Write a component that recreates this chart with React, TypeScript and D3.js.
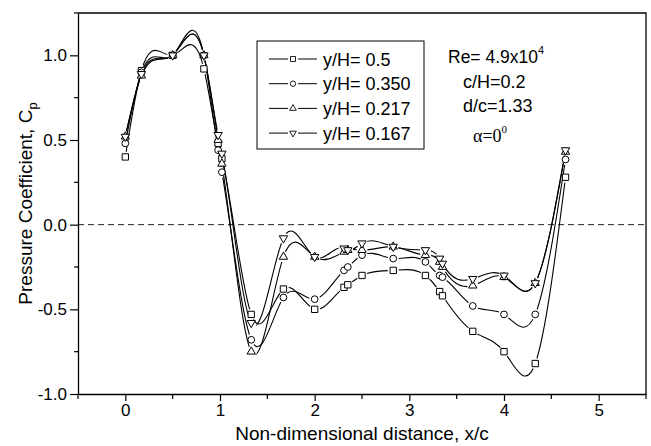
import { useEffect, useRef } from 'react';
import * as d3 from 'd3';

// x/c positions of the pressure taps
const xPos = [0, 0.17, 0.5, 0.83, 0.98, 1.02, 1.33, 1.67, 2.0, 2.31, 2.35, 2.5, 2.83, 3.17, 3.32, 3.35, 3.67, 4.0, 4.33, 4.65];

// Cp for each y/H
const cp500 = [0.40, 0.91, 1.0, 0.92, 0.48, 0.39, -0.53, -0.38, -0.50, -0.37, -0.355, -0.30, -0.27, -0.30, -0.395, -0.42, -0.63, -0.75, -0.82, 0.28];
const cp350 = [0.48, 0.90, 1.0, 1.0, 0.44, 0.31, -0.68, -0.43, -0.44, -0.27, -0.25, -0.18, -0.20, -0.22, -0.30, -0.31, -0.48, -0.53, -0.53, 0.385];
const cp217 = [0.52, 0.88, 1.0, 1.0, 0.50, 0.36, -0.75, -0.19, -0.19, -0.16, -0.15, -0.15, -0.13, -0.18, -0.22, -0.25, -0.36, -0.31, -0.345, 0.43];
const cp167 = [0.52, 0.89, 1.0, 1.0, 0.53, 0.42, -0.58, -0.08, -0.19, -0.14, -0.15, -0.11, -0.13, -0.15, -0.20, -0.23, -0.32, -0.30, -0.345, 0.44];

const seriesLabels = ['y/H= 0.5', 'y/H= 0.350', 'y/H= 0.217', 'y/H= 0.167'];
const seriesMarkers = ['square', 'circle', 'triUp', 'triDown'];

const yTicks = [-1, -0.5, 0, 0.5, 1];
const yMinor = [-0.75, -0.25, 0.25, 0.75, 1.25];
const xTicks = [0, 1, 2, 3, 4, 5];
const xMinor = [-0.5, 0.5, 1.5, 2.5, 3.5, 4.5, 5.5];

const font = 'Liberation Sans, Arial, sans-serif';

// natural cubic spline y(x), like the plotting program's "spline" connect
const curveSplineX = (context: any) => {
  let xs: number[] = [], ys: number[] = [];
  return {
    areaStart() { },
    areaEnd() { },
    lineStart() { xs = []; ys = []; },
    point(px: number, py: number) { xs.push(+px); ys.push(+py); },
    lineEnd() {
      const n = xs.length;
      if (!n) return;
      context.moveTo(xs[0], ys[0]);
      if (n === 2) { context.lineTo(xs[1], ys[1]); return; }
      const h: number[] = [];
      for (let i = 0; i < n - 1; i++) h.push(xs[i + 1] - xs[i]);
      const M = new Array(n).fill(0);
      const a: number[] = [], b: number[] = [], c: number[] = [], r: number[] = [];
      for (let i = 1; i < n - 1; i++) {
        a.push(h[i - 1]);
        b.push(2 * (h[i - 1] + h[i]));
        c.push(h[i]);
        r.push(6 * ((ys[i + 1] - ys[i]) / h[i] - (ys[i] - ys[i - 1]) / h[i - 1]));
      }
      const m = b.length;
      for (let i = 1; i < m; i++) {
        const w = a[i] / b[i - 1];
        b[i] -= w * c[i - 1];
        r[i] -= w * r[i - 1];
      }
      const sol = new Array(m).fill(0);
      sol[m - 1] = r[m - 1] / b[m - 1];
      for (let i = m - 2; i >= 0; i--) sol[i] = (r[i] - c[i] * sol[i + 1]) / b[i];
      for (let i = 0; i < m; i++) M[i + 1] = sol[i];
      for (let i = 0; i < n - 1; i++) {
        const hi = h[i];
        const s = (ys[i + 1] - ys[i]) / hi;
        const d0 = s - hi * (2 * M[i] + M[i + 1]) / 6;
        const d1 = s + hi * (M[i] + 2 * M[i + 1]) / 6;
        context.bezierCurveTo(
          xs[i] + hi / 3, ys[i] + d0 * hi / 3,
          xs[i + 1] - hi / 3, ys[i + 1] - d1 * hi / 3,
          xs[i + 1], ys[i + 1]
        );
      }
    }
  };
};

function App() {
  const ref = useRef<SVGSVGElement>(null);

  useEffect(() => {
    drawChart()
    // eslint-disable-next-line
  }, [])

  function drawChart() {
    const svg = d3.select(ref.current);
    svg.selectAll('*').remove();

    const left = 78, right = 646, top = 13, bottom = 394;
    const x = d3.scaleLinear().domain([-0.5, 5.5]).range([left, right]);
    const y = d3.scaleLinear().domain([-1, 1.25]).range([bottom, top]);

    const series = [cp500, cp350, cp217, cp167].map((vals, i) => ({
      label: seriesLabels[i],
      marker: seriesMarkers[i],
      points: xPos.map((xv, j) => [xv, vals[j]] as [number, number])
    }));

    const symbolFor = (kind: string) => {
      if (kind === 'square') return d3.symbol().type(d3.symbolSquare).size(40)();
      if (kind === 'circle') return d3.symbol().type(d3.symbolCircle).size(36)();
      return d3.symbol().type(d3.symbolTriangle).size(30)();
    };

    // zero line
    svg.append('line')
      .attr('x1', left).attr('x2', right)
      .attr('y1', y(0)).attr('y2', y(0))
      .attr('stroke', '#222')
      .attr('stroke-dasharray', '6,4');

    // top + right frame
    svg.append('path')
      .attr('d', `M${left},${top}H${right}V${bottom}`)
      .attr('fill', 'none')
      .attr('stroke', '#000')
      .attr('stroke-width', 1.3);

    // y axis
    const gy = svg.append('g')
      .attr('transform', `translate(${left},0)`)
      .call(d3.axisLeft(y).tickValues(yTicks).tickSize(8).tickSizeOuter(0).tickPadding(3)
        .tickFormat(d => (+d).toFixed(1)));
    gy.select('.domain').attr('stroke-width', 1.3);
    gy.selectAll('.tick line').attr('stroke-width', 1.2);
    gy.selectAll('text').attr('font-size', 17).attr('font-family', font).attr('fill', '#000');
    gy.selectAll('.minor').data(yMinor).enter().append('line')
      .attr('x1', -4).attr('x2', 0)
      .attr('y1', d => y(d)).attr('y2', d => y(d))
      .attr('stroke', '#000').attr('stroke-width', 1.2);

    // x axis
    const gx = svg.append('g')
      .attr('transform', `translate(0,${bottom})`)
      .call(d3.axisBottom(x).tickValues(xTicks).tickSize(7).tickSizeOuter(0).tickPadding(3)
        .tickFormat(d => String(d)));
    gx.select('.domain').attr('stroke-width', 1.3);
    gx.selectAll('.tick line').attr('stroke-width', 1.2);
    gx.selectAll('text').attr('font-size', 17).attr('font-family', font).attr('fill', '#000');
    gx.selectAll('.minor').data(xMinor).enter().append('line')
      .attr('x1', d => x(d)).attr('x2', d => x(d))
      .attr('y1', 0).attr('y2', 5)
      .attr('stroke', '#000').attr('stroke-width', 1.2);

    // axis titles
    svg.append('text')
      .attr('x', (left + right) / 2).attr('y', 440)
      .attr('text-anchor', 'middle')
      .attr('font-family', font).attr('font-size', 19)
      .text('Non-dimensional distance, x/c');

    const yt = svg.append('text')
      .attr('transform', `translate(32,${(top + bottom) / 2}) rotate(-90)`)
      .attr('text-anchor', 'middle')
      .attr('font-family', font).attr('font-size', 19);
    yt.append('tspan').text('Pressure Coefficient, C');
    yt.append('tspan').attr('dy', 5).attr('font-size', 13).text('p');

    // masks so lines stop short of their own markers
    const defs = svg.append('defs');
    series.forEach((s, i) => {
      const m = defs.append('mask').attr('id', `gap-${i}`).attr('maskUnits', 'userSpaceOnUse')
        .attr('x', 0).attr('y', 0).attr('width', 651).attr('height', 446);
      m.append('rect').attr('width', 651).attr('height', 446).attr('fill', '#fff');
      m.selectAll('circle').data(s.points).enter().append('circle')
        .attr('cx', d => x(d[0])).attr('cy', d => y(d[1])).attr('r', 5.5).attr('fill', '#000');
    });

    const line = d3.line<[number, number]>()
      .x(d => x(d[0]))
      .y(d => y(d[1]))
      .curve(curveSplineX as any);

    series.forEach((s, i) => {
      svg.append('path')
        .attr('d', line(s.points))
        .attr('fill', 'none')
        .attr('stroke', '#000')
        .attr('stroke-width', 1.1)
        .attr('mask', `url(#gap-${i})`);
    });

    series.forEach(s => {
      svg.append('g').selectAll('path').data(s.points).enter().append('path')
        .attr('d', symbolFor(s.marker))
        .attr('transform', d => `translate(${x(d[0])},${y(d[1])})${s.marker === 'triDown' ? ' rotate(180)' : ''}`)
        .attr('fill', '#fff')
        .attr('stroke', '#000')
        .attr('stroke-width', 1);
    });

    // legend
    const lg = svg.append('g');
    lg.append('rect')
      .attr('x', 257).attr('y', 41).attr('width', 167).attr('height', 108)
      .attr('fill', '#fff').attr('stroke', '#000').attr('stroke-width', 1);
    series.forEach((s, i) => {
      const cy = 59 + i * 24.7;
      lg.append('line').attr('x1', 269).attr('x2', 288).attr('y1', cy).attr('y2', cy).attr('stroke', '#000');
      lg.append('line').attr('x1', 298).attr('x2', 317).attr('y1', cy).attr('y2', cy).attr('stroke', '#000');
      lg.append('path')
        .attr('d', symbolFor(s.marker))
        .attr('transform', `translate(293,${cy}) scale(0.8)${s.marker === 'triDown' ? ' rotate(180)' : ''}`)
        .attr('fill', '#fff').attr('stroke', '#000').attr('stroke-width', 1.1);
      lg.append('text')
        .attr('x', 323).attr('y', cy + 6.5)
        .attr('font-family', font).attr('font-size', 18)
        .text(s.label);
    });

    // flow parameters
    const re = svg.append('text').attr('x', 448).attr('y', 63).attr('font-family', font).attr('font-size', 17.5);
    re.append('tspan').text('Re= 4.9x10');
    re.append('tspan').attr('dy', -9).attr('font-size', 11).text('4');
    svg.append('text').attr('x', 463).attr('y', 88).attr('font-family', font).attr('font-size', 18).text('c/H=0.2');
    svg.append('text').attr('x', 463).attr('y', 112).attr('font-family', font).attr('font-size', 18).text('d/c=1.33');
    const al = svg.append('text').attr('x', 473).attr('y', 142)
      .attr('font-family', 'Liberation Serif, Times New Roman, serif').attr('font-size', 18);
    al.append('tspan').text('α=0');
    al.append('tspan').attr('dy', -9).attr('font-size', 11).text('0');
  }

  return (
    <svg ref={ref} width={651} height={446}
      style={{ position: 'absolute', left: 0, top: 0, background: '#fff' }}>
    </svg>
  )
}

export default App
